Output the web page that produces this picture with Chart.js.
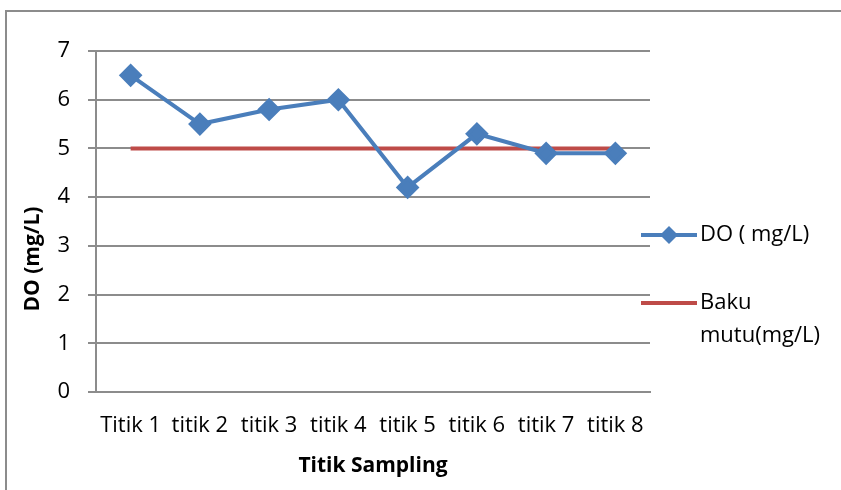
<!DOCTYPE html>
<html>
<head>
<meta charset="utf-8">
<script src="https://cdn.jsdelivr.net/npm/chart.js@4"></script>
<style>
  html, body { margin: 0; padding: 0; background: #fff; overflow: hidden; }
</style>
</head>
<body>
<canvas id="doChart" width="841" height="490"></canvas>
<script>
// data
const titikLabels = ['Titik 1', 'titik 2', 'titik 3', 'titik 4', 'titik 5', 'titik 6', 'titik 7', 'titik 8'];
const doValues = [6.5, 5.5, 5.8, 6.0, 4.2, 5.3, 4.9, 4.9];
const bakuMutu = [5, 5, 5, 5, 5, 5, 5, 5];
const yTicks = [0, 1, 2, 3, 4, 5, 6, 7];

const fontFam = '"Open Sans", sans-serif';

// outer frame, y title and legend drawn by hand (Excel look)
const excelBits = {
    id: 'excelBits',
    beforeDraw(chart) {
        const ctx = chart.ctx;
        ctx.save();
        ctx.strokeStyle = '#8c8c8c';
        ctx.lineWidth = 2;
        ctx.beginPath();
        ctx.moveTo(6, 490); ctx.lineTo(6, 11); ctx.lineTo(841, 11);
        ctx.stroke();
        ctx.restore();
    },
    afterDraw(chart) {
        const ctx = chart.ctx;
        const ds = chart.data.datasets;
        ctx.save();
        // y axis title
        ctx.translate(33, 259);
        ctx.rotate(-Math.PI / 2);
        ctx.font = 'bold 21px ' + fontFam;
        ctx.fillStyle = '#000';
        ctx.textAlign = 'center';
        ctx.textBaseline = 'middle';
        ctx.fillText('DO (mg/L)', 0, 0);
        ctx.restore();

        ctx.save();
        ctx.font = '22px ' + fontFam;
        ctx.textBaseline = 'middle';
        // DO
        ctx.strokeStyle = ds[0].borderColor;
        ctx.lineWidth = 4;
        ctx.beginPath(); ctx.moveTo(641, 235); ctx.lineTo(697, 235); ctx.stroke();
        ctx.fillStyle = ds[0].borderColor;
        ctx.beginPath();
        ctx.moveTo(669, 226); ctx.lineTo(678, 235); ctx.lineTo(669, 244); ctx.lineTo(660, 235); ctx.closePath();
        ctx.fill();
        ctx.fillStyle = '#000';
        ctx.fillText(ds[0].label, 700, 235);
        // Baku mutu
        ctx.strokeStyle = ds[1].borderColor;
        ctx.beginPath(); ctx.moveTo(641, 303); ctx.lineTo(697, 303); ctx.stroke();
        ctx.fillText('Baku', 700, 303);
        ctx.fillText('mutu(mg/L)', 700, 336);
        ctx.restore();
    }
};

const ctx = document.getElementById('doChart').getContext('2d');
new Chart(ctx, {
    type: 'line',
    data: {
        labels: titikLabels,
        datasets: [{
            label: 'DO ( mg/L)',
            data: doValues,
            borderColor: '#4a7ebb',
            backgroundColor: '#4a7ebb',
            borderWidth: 4,
            pointStyle: 'rectRot',
            pointRadius: 9,
            pointHoverRadius: 9,
            tension: 0,
            order: 0
        }, {
            label: 'Baku mutu(mg/L)',
            data: bakuMutu,
            borderColor: '#be4b48',
            backgroundColor: '#be4b48',
            borderWidth: 4,
            pointRadius: 0,
            tension: 0,
            order: 1
        }]
    },
    options: {
        responsive: false,
        animation: false,
        layout: { padding: { left: 0, top: 51, right: 191, bottom: 0 } },
        plugins: {
            legend: { display: false },
            tooltip: { enabled: false }
        },
        scales: {
            x: {
                offset: true,
                grid: { display: false, drawTicks: false },
                border: { color: '#8c8c8c', width: 2 },
                ticks: { color: '#000', font: { family: fontFam, size: 22 }, padding: 21, maxRotation: 0, autoSkip: false },
                title: { display: true, text: 'Titik Sampling', color: '#000', font: { family: fontFam, size: 21, weight: 'bold' }, padding: { top: 4, bottom: 11 } },
                afterFit(scale) { scale.height = 98; }
            },
            y: {
                min: 0,
                max: 7,
                afterBuildTicks(scale) { scale.ticks = yTicks.map(v => ({ value: v })); },
                grid: { color: '#8c8c8c', lineWidth: 2, tickLength: 8 },
                border: { color: '#8c8c8c', width: 2 },
                ticks: { color: '#000', font: { family: fontFam, size: 22 }, padding: 18 },
                afterFit(scale) { scale.width = 96; }
            }
        }
    },
    plugins: [excelBits]
});
</script>
</body>
</html>
